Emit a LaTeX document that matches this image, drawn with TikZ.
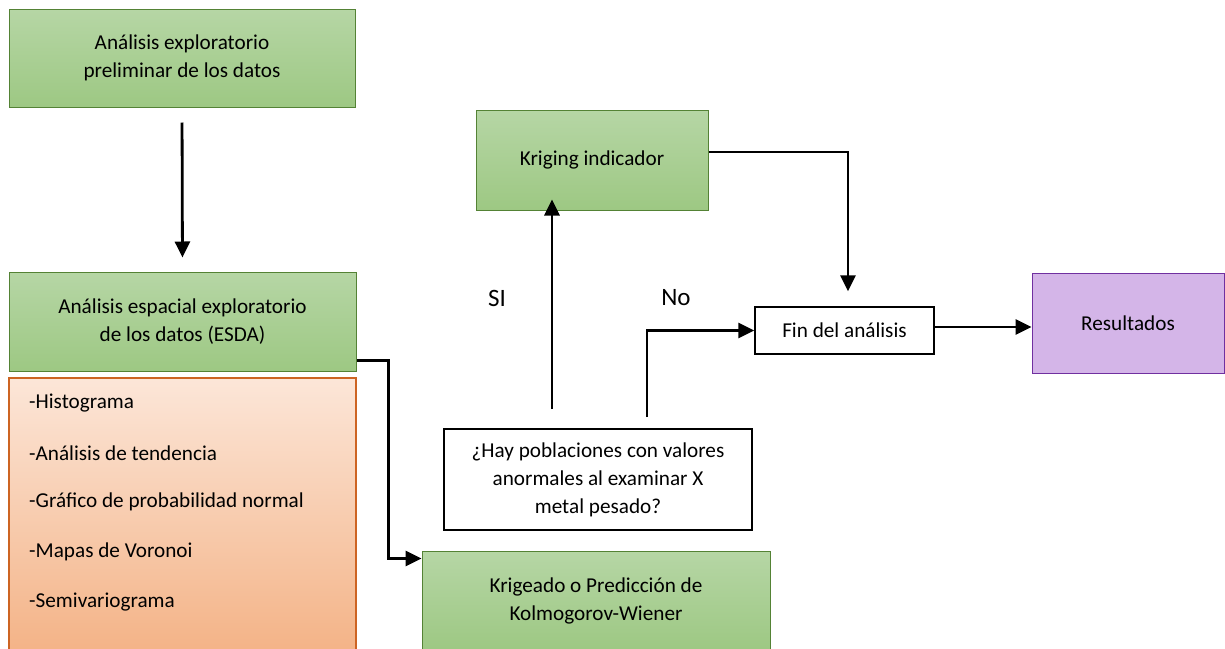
\documentclass[tikz,border=0pt]{standalone}
\usepackage{fontspec}
\setmainfont{Carlito}
\usetikzlibrary{arrows.meta,calc}
\definecolor{gtop}{RGB}{182,214,165}
\definecolor{gbot}{RGB}{157,200,131}
\definecolor{gbrd}{RGB}{84,130,53}
\definecolor{otop}{RGB}{252,230,216}
\definecolor{obot}{RGB}{243,176,130}
\definecolor{obrd}{RGB}{205,100,35}
\definecolor{pfill}{RGB}{212,181,232}
\definecolor{pbrd}{RGB}{112,48,160}
\tikzset{
  greenbox/.style={draw=gbrd, line width=1pt, top color=gtop, bottom color=gbot, align=center, inner sep=0pt},
  whitebox/.style={draw=black, line width=1.6pt, fill=white, align=center, inner sep=0pt},
  purplebox/.style={draw=pbrd, line width=1pt, fill=pfill, align=center, inner sep=0pt},
  listitem/.style={anchor=west, inner sep=0pt},
  arr/.style={draw=black, line width=2.8pt, -{Triangle[length=16pt,width=15pt]}},
  lbl/.style={font=\fontsize{25}{30}\selectfont, inner sep=0pt}
}
\begin{document}
\begin{tikzpicture}[x=1pt,y=-1pt, font=\fontsize{21.2}{28}\selectfont]
\useasboundingbox (0,0) rectangle (1225,648);
\clip (0,0) rectangle (1225,648);
\fill[white] (0,0) rectangle (1225,648);

\node[greenbox, minimum width=346pt, minimum height=98pt] (b1) at (182,58) {Análisis exploratorio\\preliminar de los datos};
\node[greenbox, minimum width=347pt, minimum height=99pt] (b2) at (182.5,321.5) {Análisis espacial exploratorio\\de los datos (ESDA)};
\node[draw=obrd, line width=1.6pt, top color=otop, bottom color=obot, minimum width=347pt, minimum height=290pt, inner sep=0pt] (ob) at (182.5,523) {};
\node[listitem] (i1) at (29,403) {-Histograma};
\node[listitem] (i2) at (29,453) {-Análisis de tendencia};
\node[listitem] (i3) at (29,502) {-Gráfico de probabilidad normal};
\node[listitem] (i4) at (29,552) {-Mapas de Voronoi};
\node[listitem] (i5) at (29,602) {-Semivariograma};

\node[greenbox, minimum width=348pt, minimum height=99pt] (kg) at (596,600.5) {Krigeado o Predicción de\\Kolmogorov-Wiener};
\node[whitebox, minimum width=308pt, minimum height=101pt] (q) at (598,479.5) {¿Hay poblaciones con valores\\anormales al examinar X\\metal pesado?};
\node[greenbox, minimum width=232pt, minimum height=100pt] (ki) at (592,160) {Kriging indicador};
\node[whitebox, line width=1.4pt, minimum width=179pt, minimum height=47pt] (fin) at (844.5,330.5) {Fin del análisis};
\node[purplebox, minimum width=192pt, minimum height=100pt] (res) at (1128,323) {Resultados};

\node[lbl] (si) at (497,298) {SI};
\node[lbl] (no) at (676,298) {No};

\draw[arr, shorten <=15pt, shorten >=14pt] (b1.south) -- (b2.north);
\draw[arr] ([yshift=11pt]b2.south east) -- ++(32,0) |- ([yshift=-8pt]kg.north west);
\draw[arr, shorten >=8pt] ([xshift=-46pt,yshift=19pt]q.north) -- ([xshift=-46pt,yshift=19pt]q.north |- ki.south);
\draw[arr] ([xshift=49pt,yshift=11pt]q.north) |- (fin.west);
\draw[arr, shorten >=15pt] ([yshift=8pt]ki.east) -| ([xshift=3.5pt]fin.north);
\draw[arr] ([yshift=3.5pt]fin.east) -- ([yshift=3.5pt]fin.east -| res.west);
\end{tikzpicture}
\end{document}
